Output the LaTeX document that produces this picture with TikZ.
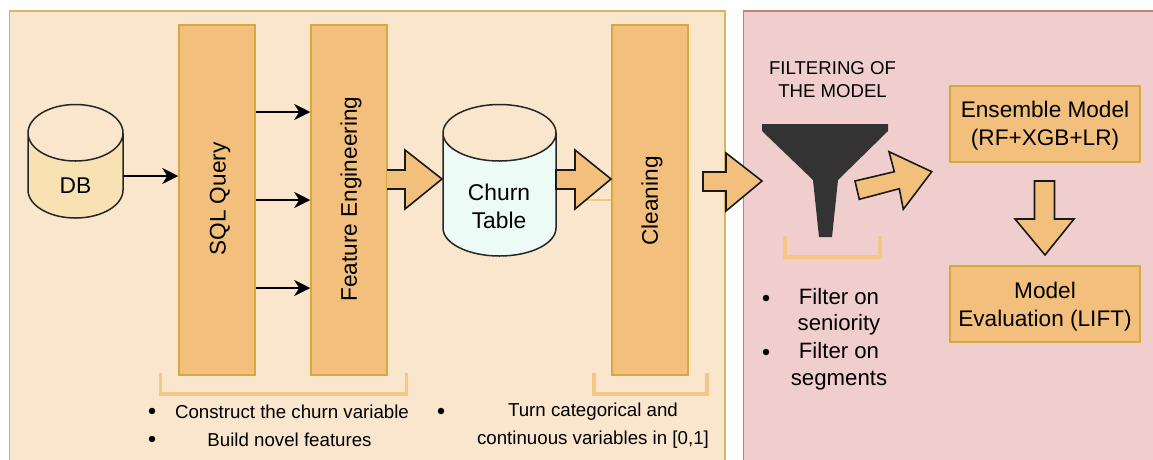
\documentclass[tikz,border=0pt]{standalone}
\usepackage{fontspec}
\usetikzlibrary{arrows.meta}
\setmainfont{Liberation Sans}
\definecolor{panelA}{HTML}{FAE5CD}
\definecolor{panelAline}{HTML}{D9B65C}
\definecolor{panelB}{HTML}{F0CECD}
\definecolor{panelBline}{HTML}{C07F7B}
\definecolor{boxfill}{HTML}{F2C07C}
\definecolor{boxline}{HTML}{D5A93F}
\definecolor{dbfill}{HTML}{F8E2B4}
\definecolor{churnfill}{HTML}{ECFBF5}
\definecolor{brace}{HTML}{F5C784}
\definecolor{funnelc}{HTML}{333333}
\tikzset{
  x=1pt,y=-1pt,
  panel/.style={line width=1.8pt},
  stage/.style={draw=boxline,fill=boxfill,line width=1.5pt,minimum width=76pt,minimum height=350pt,inner sep=0pt},
  result/.style={draw=boxline,fill=boxfill,line width=1.5pt,minimum width=190pt,minimum height=76pt,inner sep=0pt},
  resulttext/.style={inner sep=0pt,align=center,font=\fontsize{22.6}{28}\selectfont},
  vlabel/.style={rotate=90,inner sep=0pt,font=\fontsize{22.6}{26}\selectfont},
  flow/.style={draw=black,line width=1.6pt,-{Stealth[length=16pt,width=16pt,inset=5pt]}},
  block/.style={draw=black!90,fill=boxfill,line width=1.6pt,line join=miter},
  barrel/.style={draw=black!85,line width=1.5pt},
  bracket/.style={draw=brace,line width=3.4pt},
  small/.style={inner sep=0pt,font=\fontsize{18.7}{20}\selectfont},
  dot/.style={circle,fill=black,inner sep=0pt,minimum size=6.5pt},
  mid/.style={inner sep=0pt,font=\fontsize{22.2}{26.5}\selectfont,align=center},
  capt/.style={inner sep=0pt,font=\fontsize{18.6}{23}\selectfont,align=center},
  ghost/.style={inner sep=0pt,align=center,font=\fontsize{22.8}{28}\selectfont}
}
\begin{document}
\begin{tikzpicture}
\clip (0,0) rectangle (1153,459);
\fill[white] (0,0) rectangle (1153,459);
% panels
\draw[panel,draw=panelAline,fill=panelA] (9.5,11) rectangle (725,475);
\draw[panel,draw=panelBline,fill=panelB] (743.5,11) rectangle (1170,475);
% stages
\node[stage] (sql) at (217,200) {};
\node[vlabel] (sqlt) at (220,199) {SQL Query};
\node[stage] (fe) at (349,200) {};
\node[vlabel] (fet) at (351,199) {Feature Engineering};
\node[stage] (clean) at (650,200) {};
\node[vlabel] (cleant) at (652,201) {Cleaning};
% faint line
\coordinate (faint) at (575,199.5);
\draw[draw=brace,line width=2pt] (faint) -- (clean.west |- faint);
% DB cylinder
\node[minimum width=95pt,minimum height=113pt,inner sep=0pt] (db) at (75.5,161.5) {};
\draw[barrel,fill=dbfill] (28,133) arc[start angle=180,end angle=0,x radius=47.5,y radius=28]
  -- (123,190) arc[start angle=0,end angle=180,x radius=47.5,y radius=28] -- cycle;
\draw[barrel] (28,133) arc[start angle=180,end angle=360,x radius=47.5,y radius=28.5];
\node[inner sep=0pt,font=\fontsize{22.8}{25}\selectfont] (dbt) at (75.5,186) {DB};
% Churn cylinder
\node[minimum width=113pt,minimum height=151pt,inner sep=0pt] (churn) at (499.5,180.5) {};
\draw[barrel,fill=churnfill] (443,133) arc[start angle=180,end angle=0,x radius=56.5,y radius=28]
  -- (556,228) arc[start angle=0,end angle=180,x radius=56.5,y radius=28] -- cycle;
\draw[barrel] (443,133) arc[start angle=180,end angle=360,x radius=56.5,y radius=28.5];
\node[ghost] (churnt) at (499,206) {Churn\\Table};
% thin arrows
\coordinate (y0) at (0,176);
\coordinate (y1) at (0,112);
\coordinate (y2) at (0,200);
\coordinate (y3) at (0,288);
\draw[flow] (db.east |- y0) -- (sql.west |- y0);
\draw[flow] (sql.east |- y1) -- (fe.west |- y1);
\draw[flow] (sql.east |- y2) -- (fe.west |- y2);
\draw[flow] (sql.east |- y3) -- (fe.west |- y3);
% block arrows
\draw[block] (387,170) -- (405,170) -- (405,150) -- (442,179) -- (405,209) -- (405,189) -- (387,189);
\draw[block] (556,170) -- (575,170) -- (575,150) -- (611,179) -- (575,209) -- (575,189) -- (556,189) -- cycle;
\draw[block] (703,172) -- (726,172) -- (726,153) -- (762,181) -- (726,211) -- (726,191) -- (703,191) -- cycle;
\draw[block] (855,181) -- (894.3,171.7) -- (889,151.7) -- (931.7,171.7) -- (903.3,209.3) -- (899.3,188.7) -- (859.3,199.3) -- cycle;
\draw[block] (1034.5,181) -- (1054.5,181) -- (1054.5,219) -- (1074,219) -- (1045,255) -- (1015,219) -- (1034.5,219) -- cycle;
% funnel
\fill[funnelc] (762,124) -- (888,124) -- (888,131) -- (838,180) -- (832,237) -- (819,237) -- (813,180) -- (762,131) -- cycle;
\node[capt] (filt) at (832.5,79.5) {FILTERING OF\\THE MODEL};
% result boxes
\node[result] (ens) at (1045,124) {};
\node[resulttext] (enst) at (1045,126) {Ensemble Model\\(RF+XGB+LR)};
\node[result] (eval) at (1045,304) {};
\node[resulttext] (evalt) at (1045,306.5) {Model\\Evaluation (LIFT)};
% brackets
\draw[bracket] (160.5,373) -- (160.5,394) -- (406.5,394) -- (406.5,373);
\draw[bracket] (594,373) -- (594,394) -- (707,394) -- (707,373);
\draw[bracket] (785,236) -- (785,257) -- (880,257) -- (880,236);
% bullet text left
\node[dot] (b1) at (152,411) {};
\node[small] (t1) at (292,412) {Construct the churn variable};
\node[dot] (b2) at (152,439) {};
\node[small] (t2) at (289.5,440) {Build novel features};
\node[dot] (b3) at (441,411) {};
\node[small] (t3) at (593,412) {Turn categorical and};
\node[small] (t4) at (593,440) {continuous variables in [0,1]};
% bullet text right
\node[dot] (b4) at (766,298) {};
\node[mid] (t5) at (839,312) {Filter on\\seniority};
\node[dot] (b5) at (766,352) {};
\node[mid] (t6) at (839,366) {Filter on\\segments};
\end{tikzpicture}
\end{document}
